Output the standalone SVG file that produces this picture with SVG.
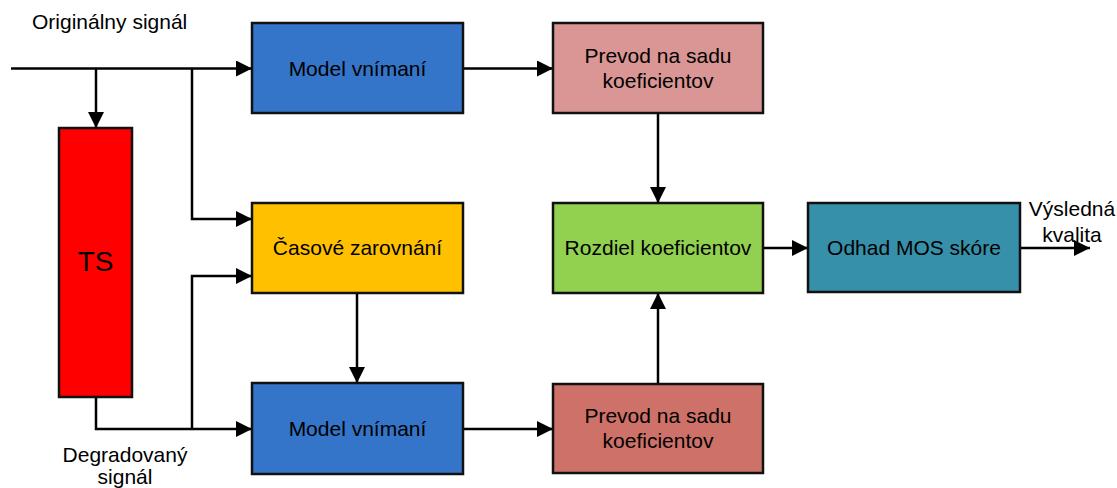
<svg xmlns="http://www.w3.org/2000/svg" width="1117" height="488" viewBox="0 0 1117 488">
<style>
.box{stroke:#111;stroke-width:2.5}
.lbl{font-family:"Liberation Sans",Arial,sans-serif;font-size:21px;fill:#000;text-anchor:middle}
.free{font-family:"Liberation Sans",Arial,sans-serif;font-size:21px;fill:#000}
.conn{fill:none;stroke:#000;stroke-width:2.5;marker-end:url(#ah)}
</style>
<defs>
<marker id="ah" markerUnits="userSpaceOnUse" markerWidth="16" markerHeight="16" viewBox="0 0 16 16" refX="16" refY="8" orient="auto">
<path d="M0,0 L16,8 L0,16 Z" fill="#000"/>
</marker>
</defs>
<rect width="1117" height="488" fill="#fff"/>
<g id="connectors">
<path class="conn" d="M11,68.5 H252"/>
<path class="conn" d="M96,68.5 V128"/>
<path class="conn" d="M192,68.5 V219 H252"/>
<path class="conn" d="M96,397 V429 H252"/>
<path class="conn" d="M192,429 V276 H252"/>
<path class="conn" d="M357,293 V383"/>
<path class="conn" d="M463,68.5 H553"/>
<path class="conn" d="M463,429 H553"/>
<path class="conn" d="M658,113 V203"/>
<path class="conn" d="M658,384 V293"/>
<path class="conn" d="M763,248 H808"/>
<path class="conn" d="M1020,248 H1090"/>
</g>
<g id="ts"><rect class="box" x="59" y="128" width="73" height="269" fill="#FF0000"/><text class="lbl" x="95.5" y="271" style="font-size:28px">TS</text></g>
<g id="model1"><rect class="box" x="252" y="23" width="211" height="90" fill="#3575C9"/><text class="lbl" x="357.5" y="75.5">Model vnímaní</text></g>
<g id="casove"><rect class="box" x="252" y="203" width="211" height="90" fill="#FFC000"/><text class="lbl" x="357.5" y="255">Časové zarovnání</text></g>
<g id="model2"><rect class="box" x="252" y="383" width="211" height="91" fill="#3575C9"/><text class="lbl" x="357.5" y="436">Model vnímaní</text></g>
<g id="prevod1"><rect class="box" x="553" y="23" width="210" height="90" fill="#D99694"/><text class="lbl" x="658" y="63">Prevod na sadu</text><text class="lbl" x="658" y="88">koeficientov</text></g>
<g id="rozdiel"><rect class="box" x="553" y="203" width="210" height="90" fill="#92D050"/><text class="lbl" x="658" y="255">Rozdiel koeficientov</text></g>
<g id="prevod2"><rect class="box" x="553" y="384" width="210" height="89" fill="#CD7169"/><text class="lbl" x="658" y="423">Prevod na sadu</text><text class="lbl" x="658" y="448">koeficientov</text></g>
<g id="odhad"><rect class="box" x="808" y="203" width="212" height="89" fill="#3790A9"/><text class="lbl" x="914" y="255">Odhad MOS skóre</text></g>
<g id="labels">
<text class="free" x="32" y="29">Originálny signál</text>
<text class="lbl" x="125" y="462">Degradovaný</text>
<text class="lbl" x="125" y="484">signál</text>
<text class="lbl" x="1072" y="216">Výsledná</text>
<text class="lbl" x="1072" y="242">kvalita</text>
</g>
</svg>
